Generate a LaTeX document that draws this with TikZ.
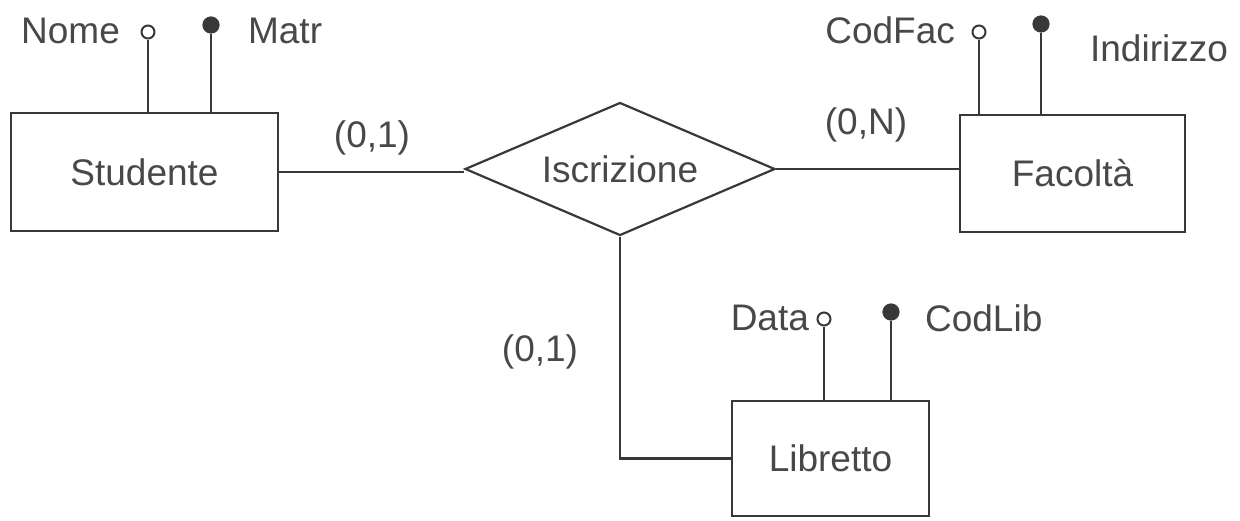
\documentclass[tikz,border=0pt]{standalone}
\usepackage{fontspec}
\setmainfont{Liberation Sans}
\usetikzlibrary{shapes.geometric}
\definecolor{ink}{HTML}{383838}
\definecolor{txt}{HTML}{484848}

\begin{document}
\begin{tikzpicture}[x=0.5pt,y=-0.5pt,line width=1.1pt,
  lbl/.style={inner sep=0pt,text=txt,font=\fontsize{18.5}{22}\selectfont},
  entity/.style={draw=ink,rectangle,inner sep=0pt,text=txt,font=\fontsize{18.5}{22}\selectfont},
  relation/.style={draw=ink,diamond,inner sep=0pt,aspect=2.33,minimum width=155pt,minimum height=66.5pt,text=txt,font=\fontsize{18.5}{22}\selectfont},
  attrO/.style={circle,draw=ink,fill=white,line width=1pt,inner sep=0pt,minimum size=6.5pt},
  attrF/.style={circle,draw=ink,fill=ink,inner sep=0pt,minimum size=7.5pt},
  link/.style={draw=ink}]
\useasboundingbox (0,0) rectangle (1240,520);

% entities and relationship
\node[entity,minimum width=133.5pt,minimum height=59pt] (stud) at (144.5,172) {Studente};
\node[entity,minimum width=112.5pt,minimum height=58.5pt] (fac) at (1072.5,173.5) {Facoltà};
\node[entity,minimum width=98.5pt,minimum height=57.5pt] (lib) at (830.5,458.5) {Libretto};
\node[relation] (iscr) at (620,169) {Iscrizione};

% relationship links
\draw[link] (stud.east |- 0,172) coordinate (s1) -- (s1 -| iscr.west);
\draw[link] (iscr.east) -- (iscr.east -| fac.west);
\draw[link] (iscr.south) |- (lib.west);

% cardinalities
\node[lbl] (c1) at (372,138) {(0,1)};
\node[lbl] (c2) at (866,125) {(0,N)};
\node[lbl] (c3) at (540,352) {(0,1)};

% attributes of Studente
\node[attrO] (nomeC) at (148,32) {};
\node[attrF] (matrC) at (211,25) {};
\draw[link] (nomeC.south) -- (nomeC.south |- stud.north);
\draw[link] (matrC.south) -- (matrC.south |- stud.north);
\node[lbl,anchor=east] (nome) at (121,31) {Nome};
\node[lbl,anchor=west] (matr) at (247,31) {Matr};

% attributes of Facolta
\node[attrO] (codfacC) at (979,32) {};
\node[attrF] (indC) at (1041,24) {};
\draw[link] (codfacC.south) -- (codfacC.south |- fac.north);
\draw[link] (indC.south) -- (indC.south |- fac.north);
\node[lbl,anchor=east] (codfac) at (956,30) {CodFac};
\node[lbl,anchor=west] (ind) at (1089,48) {Indirizzo};

% attributes of Libretto
\node[attrO] (dataC) at (824,319) {};
\node[attrF] (codlibC) at (891,312) {};
\draw[link] (dataC.south) -- (dataC.south |- lib.north);
\draw[link] (codlibC.south) -- (codlibC.south |- lib.north);
\node[lbl,anchor=east] (data) at (810,318) {Data};
\node[lbl,anchor=west] (codlib) at (924,318) {CodLib};
\end{tikzpicture}
\end{document}
